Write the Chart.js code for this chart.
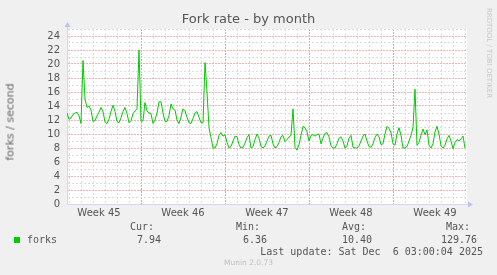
<!DOCTYPE html>
<html>
<head>
<meta charset="utf-8">
<script src="https://cdn.jsdelivr.net/npm/chart.js@4.4.1/dist/chart.umd.min.js"></script>
<style>
  body { margin: 0; background: #f0f0f0; }
  #wrap { position: relative; width: 497px; height: 275px; overflow: hidden; font-family: "DejaVu Sans", sans-serif; color: #555; }
  #wrap div { position: absolute; white-space: pre; line-height: 1; }
  #legende { left: 0; top: 0; width: 497px; height: 275px; }
  .mono { font-family: "DejaVu Sans Mono", monospace; font-size: 10px; }
</style>
</head>
<body>
<div id="wrap">
  <canvas id="graphique-forks" width="497" height="275"></canvas>
  <div style="left:0; width:497px; top:12px; text-align:center; font-size:13px;">Fork rate - by month</div>
  <div style="left:10px; top:122px; font-size:11px; color:#666; transform:translate(-50%,-50%) rotate(-90deg);">forks / second</div>
  <div style="left:488px; top:53px; font-size:7px; color:#c8c8c8; transform:translate(-50%,-50%) rotate(90deg);">RRDTOOL / TOBI OETIKER</div>
  <div id="legende"></div>
  <div style="left:14px; top:237px; width:6px; height:6px; background:#00cc00;"></div>
  <div class="mono" style="left:27px; top:235px;">forks</div>
  <div class="mono" style="right:14px; top:247px;">Last update: Sat Dec  6 03:00:04 2025</div>
  <div style="left:0; width:497px; top:259px; text-align:center; font-size:7.5px; color:#c0c0c0;">Munin 2.0.73</div>
</div>
<script>
// valeurs : un point toutes les 4 heures, depuis le 3 nov. 20h
const forks = [
  13.0, 12.1, 12.3, 12.8, 13.0, 13.1, 12.6, 11.5, 20.5, 15.0, 13.8, 14.0, 13.4, 11.8, 11.9, 12.6, 13.1, 13.8, 13.2,
  11.7, 11.5, 12.1, 13.2, 14.1, 13.2, 11.8, 11.6, 12.3, 13.2, 13.8, 12.9, 11.6, 11.9, 12.9, 13.3, 13.6, 22.0,
  11.8, 11.9, 14.5, 13.3, 13.0, 12.9, 11.5, 12.0, 13.0, 14.6, 14.6, 13.0, 11.8, 11.8, 12.6, 14.3, 13.6, 13.4,
  12.0, 11.5, 12.4, 13.6, 13.3, 12.4, 11.6, 11.5, 12.2, 13.0, 13.2, 12.4, 11.6, 11.6, 20.2, 16.0, 10.9, 9.5,
  8.0, 8.0, 8.6, 9.8, 10.2, 9.7, 9.9, 8.8, 8.0, 8.2, 9.0, 9.7, 9.6, 8.5, 8.0, 8.1, 8.7, 9.5, 9.9, 8.0,
  8.2, 9.2, 10.0, 9.4, 8.2, 8.0, 8.3, 9.0, 9.7, 9.8, 8.6, 8.0, 8.2, 8.8, 9.6, 9.8, 8.9, 9.2, 9.6, 9.8,
  13.6, 8.1, 7.7, 8.5, 9.8, 11.1, 10.9, 10.3, 9.0, 9.8, 9.9, 9.7, 9.9, 10.0, 8.6, 9.4, 10.1, 10.2, 9.6, 8.3,
  8.0, 8.0, 8.6, 9.4, 9.6, 9.0, 8.0, 8.3, 9.4, 9.8, 8.1, 8.0, 8.0, 8.3, 9.0, 9.7, 10.0, 9.0, 8.2, 8.1,
  8.6, 9.5, 10.0, 9.6, 8.5, 8.6, 10.0, 11.1, 10.8, 10.2, 8.6, 8.4, 10.0, 10.9, 9.8, 8.0, 8.0, 8.2, 9.0, 9.8,
  10.9, 16.4, 8.4, 8.8, 9.8, 10.7, 9.9, 10.6, 8.4, 8.0, 8.6, 10.3, 11.1, 10.0, 8.3, 8.0, 8.4, 9.3, 9.8, 9.0,
  7.9, 8.8, 9.2, 9.0, 9.3, 9.7, 8.0
];

// axe du temps en jours depuis le mardi 4 nov. 0h
const premierJour = -1 / 6;
const pasJour = 1 / 6;
const debutSemaines = [6, 13, 20, 27];
const milieuSemaines = [2.5, 9.5, 16.5, 23.5, 30.5];
const labelsSemaines = ["Week 45", "Week 46", "Week 47", "Week 48", "Week 49"];

// légende
const nomsStats = ["Cur:", "Min:", "Avg:", "Max:"];
const valeursStats = ["7.94", "6.36", "10.40", "129.76"];

const finNoms = [154, 260, 366, 470];
const finValeurs = [161, 267, 372, 477];
const legende = document.querySelector("#legende");
for (let i = 0; i < nomsStats.length; i++) {
    legende.innerHTML += `<div class="mono" style="right:${497 - finNoms[i]}px; top:222px;">${nomsStats[i]}</div>`;
    legende.innerHTML += `<div class="mono" style="right:${497 - finValeurs[i]}px; top:235px;">${valeursStats[i]}</div>`;
}

const points = forks.map((v, i) => ({ x: premierJour + i * pasJour, y: v }));

const grilleMineure = "#dcdcdc";
const grilleMajeure = "#efb4b4";

function estMajeureX(v) { return debutSemaines.includes(v); }
function estMajeureY(v) { return v % 2 === 0; }

const fondMunin = {
    id: "fondMunin",
    beforeDraw(chart) {
        const a = chart.chartArea, c = chart.ctx;
        c.save();
        c.fillStyle = "#ffffff";
        c.fillRect(a.left, a.top, a.right - a.left, a.bottom - a.top);
        c.restore();
    },
    afterDraw(chart) {
        const a = chart.chartArea, c = chart.ctx;
        c.save();
        c.strokeStyle = "#cfd6f8";
        c.fillStyle = "#b9c3f4";
        c.beginPath();
        c.moveTo(a.left + 0.5, a.top); c.lineTo(a.left + 0.5, a.top - 3);
        c.moveTo(a.right, a.bottom + 0.5); c.lineTo(a.right + 3, a.bottom + 0.5);
        c.stroke();
        c.beginPath();
        c.moveTo(a.left - 2.5, a.top - 2); c.lineTo(a.left + 3.5, a.top - 2); c.lineTo(a.left + 0.5, a.top - 7);
        c.fill();
        c.beginPath();
        c.moveTo(a.right + 1, a.bottom - 2.5); c.lineTo(a.right + 1, a.bottom + 3.5); c.lineTo(a.right + 6, a.bottom + 0.5);
        c.fill();
        c.restore();
    }
};

new Chart(document.querySelector("#graphique-forks"), {
    type: "line",
    data: {
        datasets: [{
            label: "forks",
            data: points,
            borderColor: "#00cc00",
            borderWidth: 1,
            pointRadius: 0,
            tension: 0
        }]
    },
    options: {
        responsive: false,
        animation: false,
        layout: { padding: { left: 0, right: 30, top: 29, bottom: 51 } },
        plugins: { legend: { display: false }, tooltip: { enabled: false } },
        scales: {
            x: {
                type: "linear",
                min: premierJour,
                max: 33 + 1 / 6,
                afterFit: (scale) => { scale.height = 20; },
                border: {
                    color: "#cfd6f8",
                    dash: (ctx) => ctx.tick && estMajeureX(ctx.tick.value) ? [2, 1] : [2, 2]
                },
                grid: {
                    drawTicks: false,
                    color: (ctx) => {
                        const v = ctx.tick.value;
                        if (!Number.isInteger(v)) return "rgba(0,0,0,0)";
                        return estMajeureX(v) ? "#eba0a0" : grilleMineure;
                    }
                },
                ticks: {
                    stepSize: 0.5,
                    includeBounds: false,
                    autoSkip: false,
                    maxRotation: 0,
                    padding: 3,
                    color: "#555",
                    font: { family: "DejaVu Sans", size: 10 },
                    callback: (value) => {
                        const i = milieuSemaines.indexOf(value);
                        return i >= 0 ? labelsSemaines[i] : "";
                    }
                }
            },
            y: {
                min: 0,
                max: 25,
                afterFit: (scale) => { scale.width = 67; },
                border: {
                    color: "#cfd6f8",
                    dash: (ctx) => ctx.tick && estMajeureY(ctx.tick.value) ? [2, 1] : [2, 2]
                },
                grid: {
                    drawTicks: false,
                    color: (ctx) => estMajeureY(ctx.tick.value) ? grilleMajeure : grilleMineure
                },
                ticks: {
                    stepSize: 1,
                    autoSkip: false,
                    padding: 7,
                    color: "#555",
                    font: { family: "DejaVu Sans", size: 10 },
                    callback: (value) => estMajeureY(value) ? String(value) : ""
                }
            }
        }
    },
    plugins: [fondMunin]
});
</script>
</body>
</html>
